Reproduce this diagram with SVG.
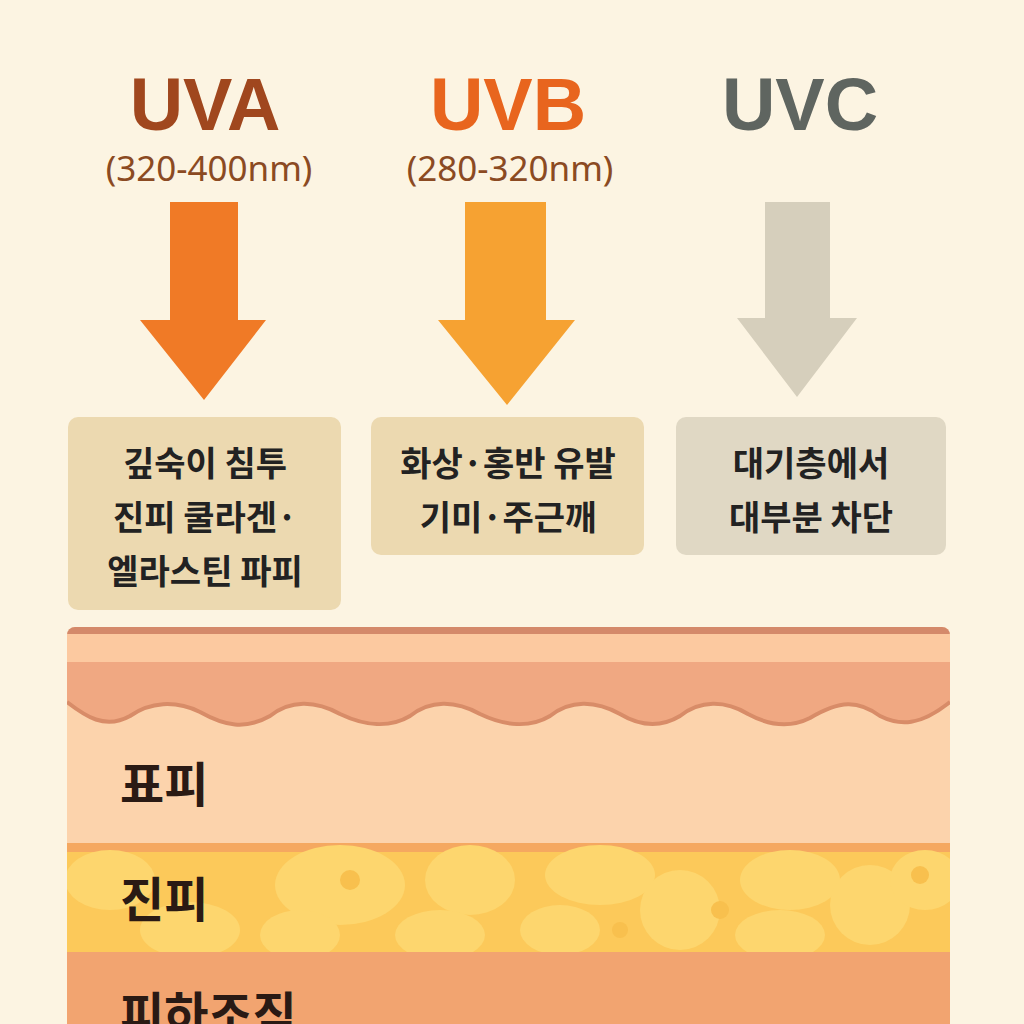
<svg xmlns="http://www.w3.org/2000/svg" width="1024" height="1024" viewBox="0 0 1024 1024">
<style>
.h{font-family:"Liberation Sans","Noto Sans",sans-serif;font-weight:bold;font-size:74px;text-anchor:middle}
.s{font-family:"Noto Sans","Liberation Sans",sans-serif;font-size:35px;fill:#8b4a22;text-anchor:middle}
.b{font-family:"Noto Sans CJK KR",sans-serif;font-weight:bold;font-size:34px;fill:#222;text-anchor:middle}
.l{font-family:"Noto Sans CJK KR",sans-serif;font-weight:bold;font-size:48px;fill:#2a1a14}
</style>
<defs>
<clipPath id="skin"><rect x="67" y="627" width="883" height="420" rx="8"/></clipPath>
</defs>
<rect width="1024" height="1024" fill="#fcf4e2"/>
<g id="uva">
<text class="h" x="205" y="130" fill="#a0471e">UVA</text>
<text class="s" x="209" y="181">(320-400nm)</text>
<path d="M170 202H238V320H266L204 400L140 320H170Z" fill="#f07a26"/>
<rect x="68" y="417" width="273" height="193" rx="10" fill="#ecd9b0"/>
<text class="b" x="205" y="476">깊숙이 침투</text>
<text class="b" x="205" y="530">진피 쿨라겐·</text>
<text class="b" x="205" y="584">엘라스틴 파피</text>
</g>
<g id="uvb">
<text class="h" x="508" y="130" fill="#e8651e">UVB</text>
<text class="s" x="510" y="181">(280-320nm)</text>
<path d="M465 202H546V320H575L507 405L438 320H465Z" fill="#f6a232"/>
<rect x="371" y="417" width="273" height="138" rx="10" fill="#ecd9b0"/>
<text class="b" x="508" y="476">화상·홍반 유발</text>
<text class="b" x="508" y="530">기미·주근깨</text>
</g>
<g id="uvc">
<text class="h" x="800" y="130" fill="#5f6560">UVC</text>
<path d="M765 202H830V318H857L797 397L737 318H765Z" fill="#d6cfbc"/>
<rect x="676" y="417" width="270" height="138" rx="10" fill="#e0d8c4"/>
<text class="b" x="811" y="476">대기층에서</text>
<text class="b" x="811" y="530">대부분 차단</text>
</g>
<g id="skin-layers" clip-path="url(#skin)">
<rect x="67" y="627" width="883" height="400" fill="#fcd3ac"/>
<rect x="67" y="627" width="883" height="7" fill="#d4896a"/>
<rect x="67" y="634" width="883" height="28" fill="#fcc9a0"/>
<path d="M67 662H950V702C920 726 900 726 880 716C858 700 840 700 810 718C790 728 770 726 748 714C725 700 700 700 680 716C660 728 640 726 620 714C595 700 570 700 550 716C530 728 505 726 480 714C455 700 430 700 410 716C390 728 365 726 340 714C315 700 290 700 270 716C245 730 225 726 200 712C175 700 150 702 130 716C105 730 85 716 67 702Z" fill="#f0a882"/>
<path d="M950 702C920 726 900 726 880 716C858 700 840 700 810 718C790 728 770 726 748 714C725 700 700 700 680 716C660 728 640 726 620 714C595 700 570 700 550 716C530 728 505 726 480 714C455 700 430 700 410 716C390 728 365 726 340 714C315 700 290 700 270 716C245 730 225 726 200 712C175 700 150 702 130 716C105 730 85 716 67 702" fill="none" stroke="#d88c68" stroke-width="4"/>
<rect x="67" y="843" width="883" height="9" fill="#f5a860"/>
<rect x="67" y="852" width="883" height="100" fill="#fcc95a"/>
<g fill="#fdd66e">
<ellipse cx="110" cy="880" rx="45" ry="30"/><ellipse cx="190" cy="930" rx="50" ry="28"/>
<ellipse cx="340" cy="885" rx="65" ry="40"/><ellipse cx="300" cy="935" rx="40" ry="25"/>
<ellipse cx="470" cy="880" rx="45" ry="35"/><ellipse cx="440" cy="935" rx="45" ry="25"/>
<ellipse cx="600" cy="875" rx="55" ry="30"/><ellipse cx="560" cy="930" rx="40" ry="25"/>
<ellipse cx="680" cy="910" rx="40" ry="40"/><ellipse cx="790" cy="880" rx="50" ry="30"/>
<ellipse cx="780" cy="935" rx="45" ry="25"/><ellipse cx="870" cy="905" rx="40" ry="40"/>
<ellipse cx="925" cy="880" rx="35" ry="30"/>
</g>
<g fill="#f8c04e"><circle cx="350" cy="880" r="10"/><circle cx="720" cy="910" r="9"/><circle cx="620" cy="930" r="8"/><circle cx="920" cy="875" r="9"/></g>
<rect x="67" y="952" width="883" height="80" fill="#f2a470"/>
</g>
<g id="labels">
<text class="l" x="120" y="802">표피</text>
<text class="l" x="120" y="917">진피</text>
<text class="l" x="120" y="1032">피하조직</text>
</g>
</svg>
